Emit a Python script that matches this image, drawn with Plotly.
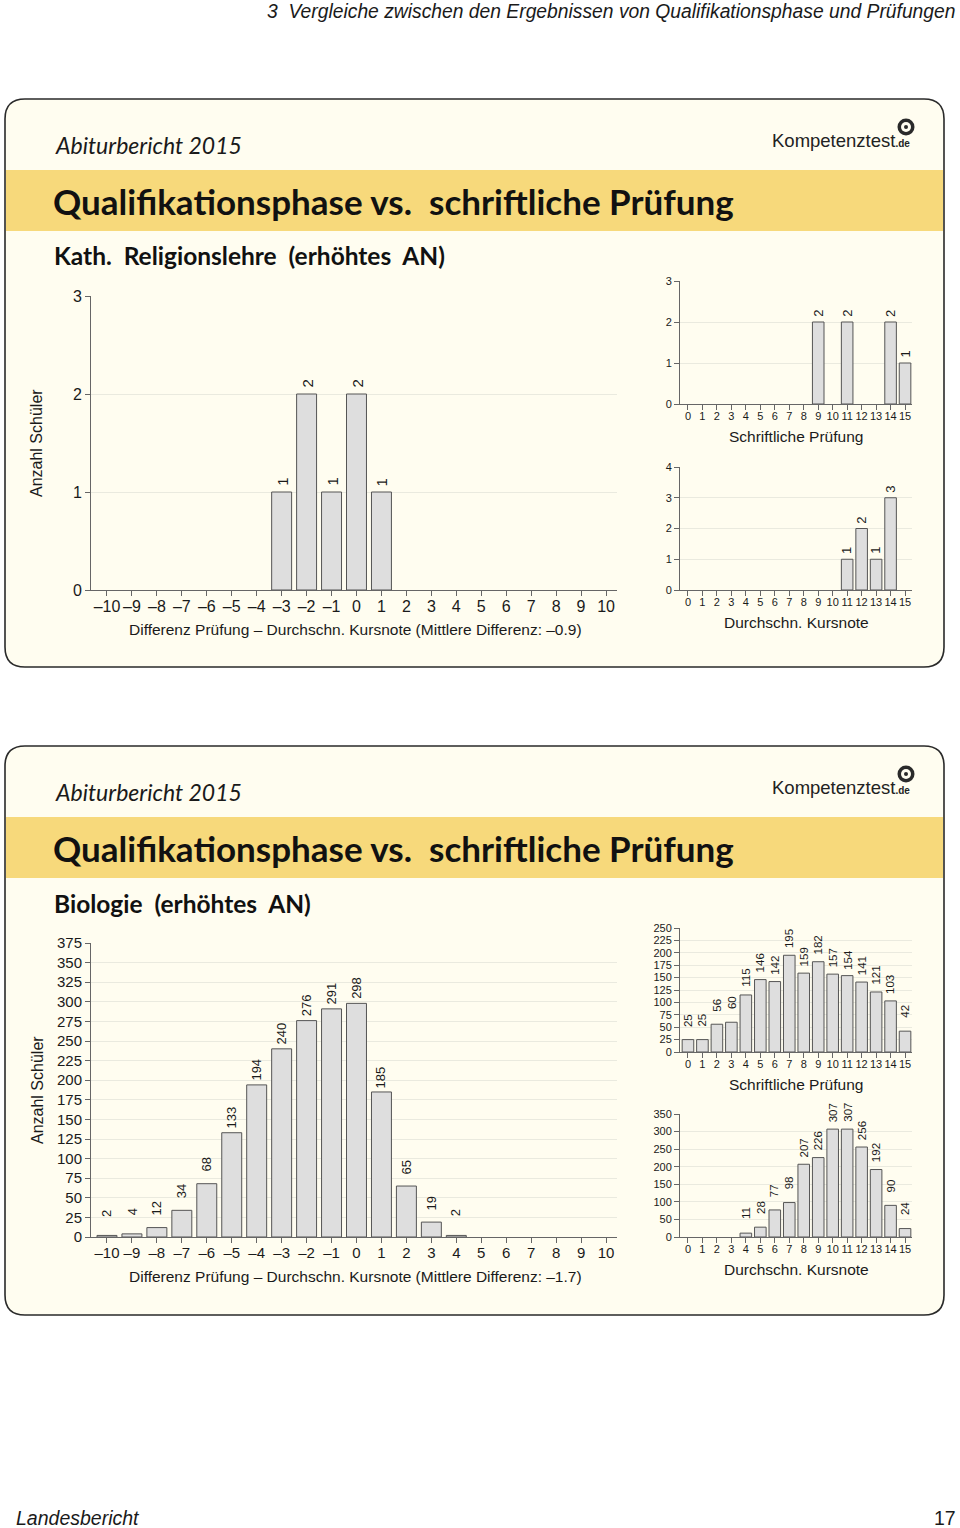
import plotly.graph_objects as go

W, H = 960, 1528

# ---------------- data ----------------
diff_cats = list(range(-10, 11))
diff_ticktext = ["–10", "–9", "–8", "–7", "–6", "–5", "–4", "–3", "–2", "–1",
                 "0", "1", "2", "3", "4", "5", "6", "7", "8", "9", "10"]
grade_cats = list(range(0, 16))

rel_diff = [0, 0, 0, 0, 0, 0, 0, 1, 2, 1, 2, 1, 0, 0, 0, 0, 0, 0, 0, 0, 0]
rel_exam = [0, 0, 0, 0, 0, 0, 0, 0, 0, 2, 0, 2, 0, 0, 2, 1]
rel_course = [0, 0, 0, 0, 0, 0, 0, 0, 0, 0, 0, 1, 2, 1, 3, 0]

bio_diff = [2, 4, 12, 34, 68, 133, 194, 240, 276, 291, 298, 185, 65, 19, 2, 0, 0, 0, 0, 0, 0]
bio_exam = [25, 25, 56, 60, 115, 146, 142, 195, 159, 182, 157, 154, 141, 121, 103, 42]
bio_course = [0, 0, 0, 0, 11, 28, 77, 98, 207, 226, 307, 307, 256, 192, 90, 24]

rel_diff_title = "Differenz Prüfung – Durchschn. Kursnote (Mittlere Differenz: –0.9)"
bio_diff_title = "Differenz Prüfung – Durchschn. Kursnote (Mittlere Differenz: –1.7)"

# ---------------- styles ----------------
CHART_FONT = "Liberation Sans, Arial, sans-serif"
TITLE_FONT = "Lato, Open Sans, sans-serif"
BAR_FILL = "#DEDEDE"
BAR_LINE = "#555555"
AXIS_COL = "#666666"
GRID_COL = "#EAEADF"
TXT = "#1a1a1a"
PANEL_BG = "#FFFDF0"
BAND = "#F7D97B"


def px(x):
    return x / W


def py(y):
    return 1 - y / H


fig = go.Figure()
annotations = []
shapes = []

charts = [
    dict(vals=rel_diff, cats=diff_cats, tt=diff_ticktext, x0=91, x1=617, yt=296, yb=590,
         ymax=3, dtick=1, tf=16, lf=15, off=15, xr=[-10.64, 10.44],
         title=rel_diff_title, tx=355, ty=629, ts=15.5),
    dict(vals=rel_exam, cats=grade_cats, tt=[str(c) for c in grade_cats], x0=680, x1=912,
         yt=281, yb=404, ymax=3, dtick=1, tf=11, lf=13, off=13, xr=[-0.55, 15.48],
         title="Schriftliche Prüfung", tx=796, ty=437, ts=15.5),
    dict(vals=rel_course, cats=grade_cats, tt=[str(c) for c in grade_cats], x0=680, x1=912,
         yt=467, yb=590, ymax=4, dtick=1, tf=11, lf=13, off=13, xr=[-0.55, 15.48],
         title="Durchschn. Kursnote", tx=796, ty=622, ts=15.5),
    dict(vals=bio_diff, cats=diff_cats, tt=diff_ticktext, x0=91, x1=617, yt=943, yb=1237,
         ymax=375, dtick=25, tf=15, lf=13, off=27, xr=[-10.64, 10.44],
         title=bio_diff_title, tx=355, ty=1276, ts=15.5),
    dict(vals=bio_exam, cats=grade_cats, tt=[str(c) for c in grade_cats], x0=680, x1=912,
         yt=928, yb=1052, ymax=250, dtick=25, tf=11, lf=11.5, off=27, xr=[-0.55, 15.48],
         title="Schriftliche Prüfung", tx=796, ty=1084, ts=15.5),
    dict(vals=bio_course, cats=grade_cats, tt=[str(c) for c in grade_cats], x0=680, x1=912,
         yt=1114, yb=1237, ymax=350, dtick=50, tf=11, lf=11.5, off=27, xr=[-0.55, 15.48],
         title="Durchschn. Kursnote", tx=796, ty=1269, ts=15.5),
]

layout_axes = {}
for i, c in enumerate(charts, start=1):
    xa = "x" if i == 1 else f"x{i}"
    ya = "y" if i == 1 else f"y{i}"
    xkey = "xaxis" if i == 1 else f"xaxis{i}"
    ykey = "yaxis" if i == 1 else f"yaxis{i}"
    yvals = [v if v > 0 else None for v in c["vals"]]
    fig.add_trace(go.Bar(
        x=c["cats"], y=yvals, xaxis=xa, yaxis=ya, width=0.8,
        marker=dict(color=BAR_FILL, line=dict(color=BAR_LINE, width=1)),
        showlegend=False, hoverinfo="x+y",
    ))
    for cat, v in zip(c["cats"], c["vals"]):
        if v > 0:
            annotations.append(dict(
                x=cat, y=v, xref=xa, yref=ya, text=str(v), textangle=-90,
                showarrow=False, xanchor="center", yanchor="top", yshift=c["off"],
                font=dict(family=CHART_FONT, size=c["lf"], color=TXT), borderpad=0,
            ))
    layout_axes[xkey] = dict(
        domain=[px(c["x0"]), px(c["x1"])], range=c["xr"], anchor=ya,
        tickmode="array", tickvals=c["cats"], ticktext=c["tt"], tickangle=0,
        ticks="outside", ticklen=5, tickcolor=AXIS_COL, showline=True,
        linecolor=AXIS_COL, linewidth=1, showgrid=False, zeroline=False,
        ticklabelstandoff=-3, automargin=False,
        tickfont=dict(family=CHART_FONT, size=c["tf"], color=TXT), fixedrange=True,
    )
    ticks_y = list(range(0, c["ymax"] + 1, c["dtick"]))
    layout_axes[ykey] = dict(
        domain=[py(c["yb"]), py(c["yt"])], range=[0, c["ymax"]], anchor=xa,
        tickmode="array", tickvals=ticks_y, ticktext=[str(t) for t in ticks_y],
        ticks="outside", ticklen=5, tickcolor=AXIS_COL, showline=True,
        linecolor=AXIS_COL, linewidth=1, showgrid=True, gridcolor=GRID_COL,
        gridwidth=1, zeroline=False, automargin=False,
        tickfont=dict(family=CHART_FONT, size=c["tf"], color=TXT), fixedrange=True,
    )
    annotations.append(dict(
        x=px(c["tx"]), y=py(c["ty"]),
        xref="paper", yref="paper", text=c["title"], showarrow=False,
        xanchor="center", yanchor="middle",
        font=dict(family=CHART_FONT, size=c["ts"], color=TXT),
    ))

for yc in (443, 1090):
    annotations.append(dict(
        x=px(37), y=py(yc), xref="paper", yref="paper", text="Anzahl Schüler",
        textangle=-90, showarrow=False, xanchor="center", yanchor="middle",
        font=dict(family=CHART_FONT, size=16, color=TXT),
    ))


# ---------------- panels ----------------
def rrect_path(x0, y0, x1, y1, r):
    rx, ry = r / W, r / H
    X0, X1 = px(x0), px(x1)
    Y0, Y1 = py(y0), py(y1)
    return (f"M {X0+rx},{Y0} L {X1-rx},{Y0} Q {X1},{Y0} {X1},{Y0-ry} "
            f"L {X1},{Y1+ry} Q {X1},{Y1} {X1-rx},{Y1} L {X0+rx},{Y1} "
            f"Q {X0},{Y1} {X0},{Y1+ry} L {X0},{Y0-ry} Q {X0},{Y0} {X0+rx},{Y0} Z")


panels = [
    dict(top=99, bottom=667, band=(170, 231), sub="Kath.  Religionslehre  (erhöhtes  AN)"),
    dict(top=746, bottom=1315, band=(817, 878), sub="Biologie  (erhöhtes  AN)"),
]
for p in panels:
    path = rrect_path(5, p["top"], 944, p["bottom"], 20)
    shapes.append(dict(type="path", path=path, xref="paper", yref="paper",
                       fillcolor=PANEL_BG, line=dict(width=0), layer="below"))
    shapes.append(dict(type="rect", xref="paper", yref="paper",
                       x0=px(6), x1=px(943), y0=py(p["band"][1]), y1=py(p["band"][0]),
                       fillcolor=BAND, line=dict(width=0), layer="below"))
    shapes.append(dict(type="path", path=path, xref="paper", yref="paper",
                       fillcolor="rgba(0,0,0,0)", line=dict(color="#2a2a2a", width=1.6),
                       layer="below"))
    t = p["top"]
    annotations.append(dict(
        x=px(53), y=py(t + 46), xref="paper", yref="paper", text="<i>Abiturbericht 2015</i>",
        showarrow=False, xanchor="left", yanchor="middle",
        font=dict(family=TITLE_FONT, size=23, color=TXT),
    ))
    annotations.append(dict(
        x=px(51), y=py(t + 102), xref="paper", yref="paper",
        text="<b>Qualifikationsphase vs.  schriftliche Prüfung</b>",
        showarrow=False, xanchor="left", yanchor="middle",
        font=dict(family=TITLE_FONT, size=35, color="#111111"),
    ))
    annotations.append(dict(
        x=px(52), y=py(t + 157), xref="paper", yref="paper", text=f"<b>{p['sub']}</b>",
        showarrow=False, xanchor="left", yanchor="middle",
        font=dict(family=TITLE_FONT, size=24.5, color="#111111"),
    ))
    annotations.append(dict(
        x=px(770), y=py(t + 41), xref="paper", yref="paper",
        text="Kompetenztest<span style='font-size:10px'><b>.de</b></span>",
        showarrow=False, xanchor="left", yanchor="middle",
        font=dict(family=CHART_FONT, size=18.5, color="#222222"),
    ))
    cx, cy = 906, t + 28
    for r, col in ((8.5, "#2a2a2a"), (5, PANEL_BG), (2, "#2a2a2a")):
        shapes.append(dict(type="circle", xref="paper", yref="paper",
                           x0=px(cx - r), x1=px(cx + r), y0=py(cy + r), y1=py(cy - r),
                           fillcolor=col, line=dict(width=0), layer="above"))

annotations.append(dict(
    x=px(958), y=py(11), xref="paper", yref="paper",
    text="<i>3  Vergleiche zwischen den Ergebnissen von Qualifikationsphase und Prüfungen</i>",
    showarrow=False, xanchor="right", yanchor="middle",
    font=dict(family=CHART_FONT, size=19.3, color=TXT),
))
annotations.append(dict(
    x=px(14), y=py(1518), xref="paper", yref="paper", text="<i>Landesbericht</i>",
    showarrow=False, xanchor="left", yanchor="middle",
    font=dict(family=CHART_FONT, size=19.5, color=TXT),
))
annotations.append(dict(
    x=px(958), y=py(1518), xref="paper", yref="paper", text="17",
    showarrow=False, xanchor="right", yanchor="middle",
    font=dict(family=CHART_FONT, size=19.5, color=TXT),
))

fig.update_layout(
    template="none",
    width=W, height=H, margin=dict(l=0, r=0, t=0, b=0, pad=0, autoexpand=False),
    autosize=False,
    paper_bgcolor="white", plot_bgcolor="rgba(0,0,0,0)",
    showlegend=False, bargap=0.2,
    annotations=annotations, shapes=shapes,
    **layout_axes,
)

fig.write_html(
    "out.html",
    config={"displayModeBar": False, "responsive": False},
    post_script="document.body.style.margin='0';document.body.style.padding='0';",
)
